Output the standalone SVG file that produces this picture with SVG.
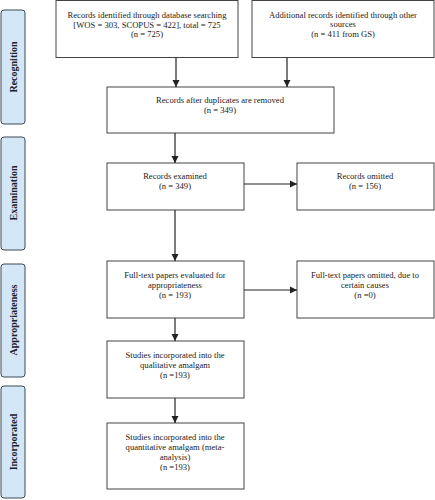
<svg xmlns="http://www.w3.org/2000/svg" width="435" height="500" viewBox="0 0 435 500">
<defs>
<marker id="ah" markerWidth="8" markerHeight="8" refX="7" refY="4" orient="auto" markerUnits="userSpaceOnUse">
<path d="M0,0.5 L7,4 L0,7.5 Z" fill="#222"/>
</marker>
<style>
.box{fill:#fff;stroke:#444;stroke-width:1}
.side{fill:#d3e7f7;stroke:#3c4a58;stroke-width:1}
.t{font-family:"Liberation Serif","Times New Roman",serif;font-size:8.6px;fill:#222;text-anchor:middle}
.s{font-family:"Liberation Serif","Times New Roman",serif;font-size:10px;font-weight:bold;fill:#1a2230;text-anchor:middle}
.c{stroke:#222;stroke-width:1.2;fill:none;marker-end:url(#ah)}
</style>
</defs>
<rect width="435" height="500" fill="#fff"/>
<g id="side-recognition"><rect class="side" x="1" y="10" width="24" height="114" rx="3"/><text class="s" transform="translate(16.5,67) rotate(-90)">Recognition</text></g>
<g id="side-examination"><rect class="side" x="1" y="137" width="24" height="113" rx="3"/><text class="s" transform="translate(16.5,193) rotate(-90)">Examination</text></g>
<g id="side-appropriateness"><rect class="side" x="1" y="264" width="24" height="113" rx="3"/><text class="s" transform="translate(16.5,320) rotate(-90)">Appropriateness</text></g>
<g id="side-incorporated"><rect class="side" x="1" y="386" width="24" height="112" rx="3"/><text class="s" transform="translate(16.5,442) rotate(-90)">Incorporated</text></g>

<g id="n1"><rect class="box" x="56" y="0.5" width="182" height="57"/>
<text class="t" x="147" y="18">Records identified through database searching</text>
<text class="t" x="147" y="28">[WOS = 303, SCOPUS = 422], total = 725</text>
<text class="t" x="147" y="37">(n = 725)</text></g>
<g id="n2"><rect class="box" x="252" y="0.5" width="182" height="57"/>
<text class="t" x="343" y="18">Additional records identified through other</text>
<text class="t" x="343" y="27">sources</text>
<text class="t" x="343" y="37">(n = 411 from GS)</text></g>
<g id="n3"><rect class="box" x="107" y="87" width="227" height="46"/>
<text class="t" x="220" y="103">Records after duplicates are removed</text>
<text class="t" x="220" y="113">(n = 349)</text></g>
<g id="n4"><rect class="box" x="107" y="163" width="137" height="47"/>
<text class="t" x="175" y="179">Records examined</text>
<text class="t" x="175" y="189">(n = 349)</text></g>
<g id="n5"><rect class="box" x="297" y="163" width="137" height="47"/>
<text class="t" x="365" y="179">Records omitted</text>
<text class="t" x="365" y="189">(n = 156)</text></g>
<g id="n6"><rect class="box" x="107" y="261" width="137" height="57"/>
<text class="t" x="175" y="278">Full-text papers evaluated for</text>
<text class="t" x="175" y="288">appropriateness</text>
<text class="t" x="175" y="298">(n = 193)</text></g>
<g id="n7"><rect class="box" x="297" y="261" width="137" height="57"/>
<text class="t" x="365" y="278">Full-text papers omitted, due to</text>
<text class="t" x="365" y="288">certain causes</text>
<text class="t" x="365" y="298">(n =0)</text></g>
<g id="n8"><rect class="box" x="107" y="341" width="137" height="57"/>
<text class="t" x="175" y="358">Studies incorporated into the</text>
<text class="t" x="175" y="368">qualitative amalgam</text>
<text class="t" x="175" y="378">(n =193)</text></g>
<g id="n9"><rect class="box" x="107" y="423" width="137" height="66"/>
<text class="t" x="175" y="440">Studies incorporated into the</text>
<text class="t" x="175" y="450">quantitative amalgam (meta-</text>
<text class="t" x="175" y="460">analysis)</text>
<text class="t" x="175" y="470">(n =193)</text></g>

<g id="connectors">
<line class="c" x1="176" y1="57.5" x2="176" y2="87"/>
<line class="c" x1="287" y1="57.5" x2="287" y2="87"/>
<line class="c" x1="175" y1="133" x2="175" y2="163"/>
<line class="c" x1="244" y1="184" x2="297" y2="184"/>
<line class="c" x1="175" y1="210" x2="175" y2="261"/>
<line class="c" x1="244" y1="290" x2="297" y2="290"/>
<line class="c" x1="175" y1="318" x2="175" y2="341"/>
<line class="c" x1="175" y1="398" x2="175" y2="423"/>
</g>
</svg>
